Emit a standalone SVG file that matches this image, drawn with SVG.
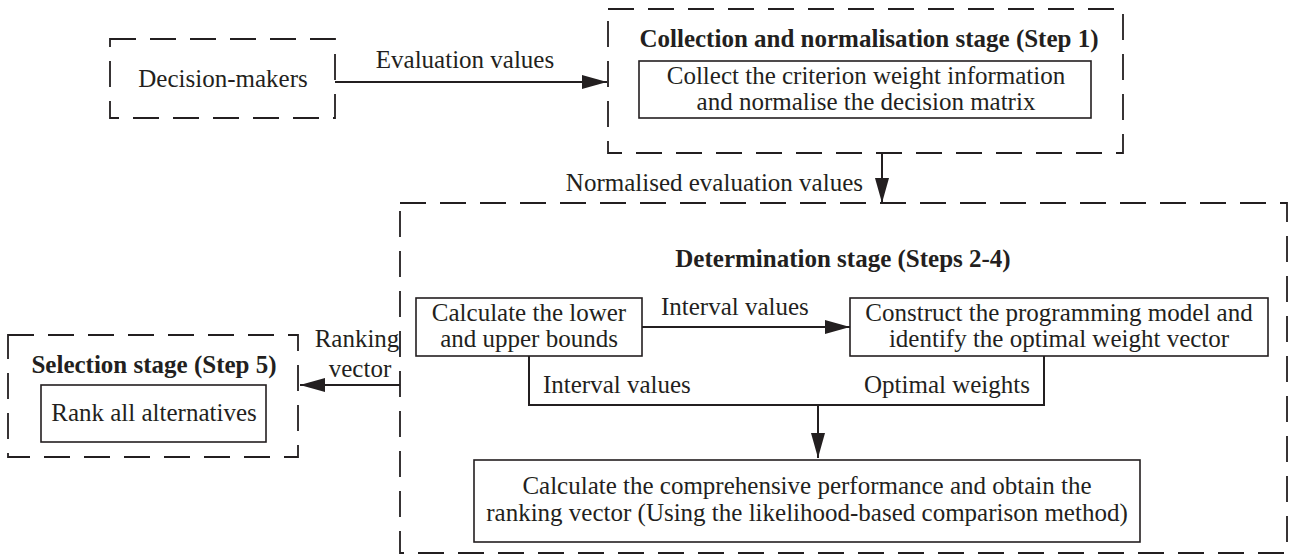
<svg xmlns="http://www.w3.org/2000/svg" width="1289" height="559" viewBox="0 0 1289 559" font-family="'Liberation Serif', 'DejaVu Serif', serif">
<defs>
<style>
text{font-family:'Liberation Serif','DejaVu Serif',serif;font-size:25px;fill:#231f20}
.b{font-weight:bold}
.m{text-anchor:middle}
.dash{fill:none;stroke:#231f20;stroke-width:1.8;stroke-dasharray:26 14}
.box{fill:#fff;stroke:#231f20;stroke-width:1.6}
.conn{fill:none;stroke:#231f20;stroke-width:2}
</style>
<marker id="arr" markerUnits="userSpaceOnUse" markerWidth="26" markerHeight="14" refX="25" refY="7" orient="auto">
<path d="M0,0 L25,7 L0,14 z" fill="#231f20"/>
</marker>
</defs>
<rect width="1289" height="559" fill="#fff"/>

<g id="decision-makers">
<rect class="dash" x="110" y="39" width="225" height="79"/>
<text class="m" x="223" y="87">Decision-makers</text>
</g>

<g id="collection-stage">
<rect class="dash" x="608" y="9" width="515" height="144"/>
<text class="m b" x="869" y="47">Collection and normalisation stage (Step 1)</text>
</g>
<g id="collect-normalise">
<rect class="box" x="639" y="61" width="452" height="57"/>
<text class="m" x="866" y="84">Collect the criterion weight information</text>
<text class="m" x="866" y="110">and normalise the decision matrix</text>
</g>

<g id="determination-stage">
<rect class="dash" x="400" y="203" width="887" height="350"/>
<text class="m b" x="843" y="267">Determination stage (Steps 2-4)</text>
</g>
<g id="bounds">
<rect class="box" x="416" y="298" width="226" height="58"/>
<text class="m" x="529" y="321">Calculate the lower</text>
<text class="m" x="529" y="347">and upper bounds</text>
</g>
<g id="programming-model">
<rect class="box" x="850" y="298" width="418" height="58"/>
<text class="m" x="1059" y="321">Construct the programming model and</text>
<text class="m" x="1059" y="347">identify the optimal weight vector</text>
</g>
<g id="comprehensive">
<rect class="box" x="474" y="460" width="666" height="82"/>
<text class="m" x="807" y="494">Calculate the comprehensive performance and obtain the</text>
<text class="m" x="807" y="521">ranking vector (Using the likelihood-based comparison method)</text>
</g>

<g id="selection-stage">
<rect class="dash" x="8" y="335" width="290" height="122"/>
<text class="m b" x="154" y="373">Selection stage (Step 5)</text>
</g>
<g id="rank">
<rect class="box" x="41" y="385" width="225" height="57"/>
<text class="m" x="154" y="421">Rank all alternatives</text>
</g>

<g id="connectors">
<path class="conn" d="M335,82 H607" marker-end="url(#arr)"/>
<text class="m" x="465" y="68">Evaluation values</text>
<path class="conn" d="M882,153 V203" marker-end="url(#arr)"/>
<text x="863" y="191" style="text-anchor:end">Normalised evaluation values</text>
<path class="conn" d="M642,327 H850" marker-end="url(#arr)"/>
<text x="661" y="315">Interval values</text>
<path class="conn" d="M529,356 V405 H1044 V356"/>
<text x="543" y="393">Interval values</text>
<text x="1030" y="393" style="text-anchor:end">Optimal weights</text>
<path class="conn" d="M818,405 V458" marker-end="url(#arr)"/>
<path class="conn" d="M400,385 H300" marker-end="url(#arr)"/>
<text class="m" x="357" y="347">Ranking</text>
<text class="m" x="360" y="377">vector</text>
</g>
</svg>
